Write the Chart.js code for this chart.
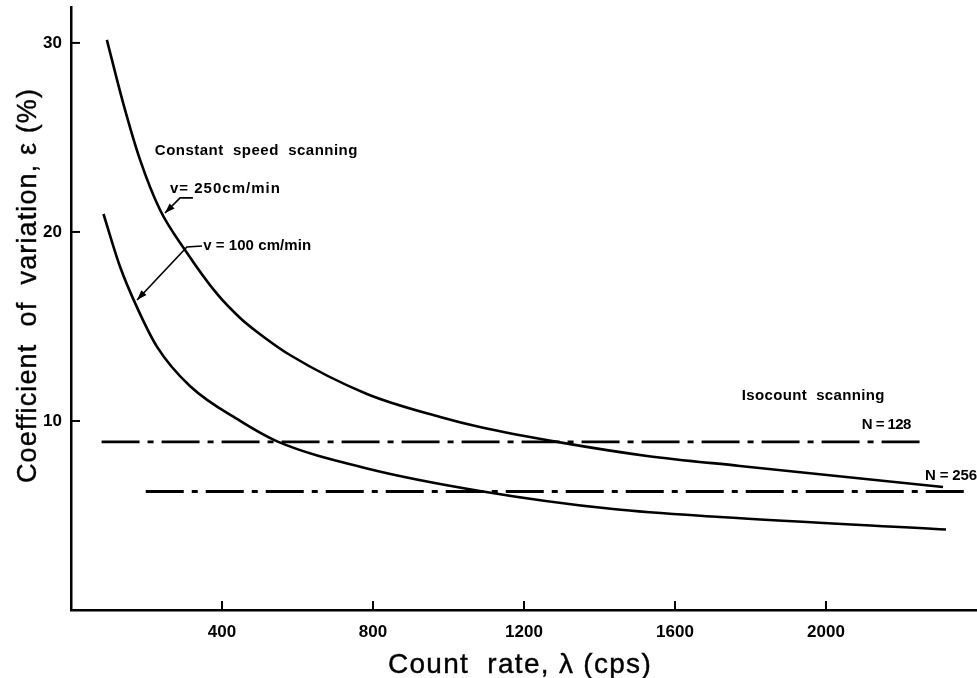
<!DOCTYPE html>
<html><head><meta charset="utf-8">
<script src="https://cdn.jsdelivr.net/npm/chart.js@4.4.1/dist/chart.umd.min.js"></script>
<style>html,body{margin:0;padding:0;background:#fff;}canvas{display:block;}</style>
</head><body>
<canvas id="c" width="977" height="678"></canvas>
<script>
// ---- data ----
const xTicks = [400, 800, 1200, 1600, 2000];
const yTicks = [10, 20, 30];

// Constant speed scanning, v = 250 cm/min
const rateV250 = [95, 138, 183, 236, 302, 387, 448, 493, 580, 784, 978, 1083, 1303, 1526, 1772, 2310];
const cvV250   = [30.16, 26.83, 23.81, 21.16, 19.05, 16.72, 15.45, 14.71, 13.49, 11.43, 10.21, 9.68, 8.84, 8.15, 7.62, 6.51];

// Constant speed scanning, v = 100 cm/min
const rateV100 = [86, 130, 174, 228, 315, 448, 546, 784, 1083, 1436, 1719, 2318];
const cvV100   = [20.95, 18.16, 16.05, 13.92, 11.85, 10.0, 8.92, 7.49, 6.30, 5.34, 4.92, 4.26];

// Isocount scanning
const rateN128 = [81, 2253];
const cvN128   = [8.89, 8.89];
const rateN256 = [198, 2383];
const cvN256   = [6.27, 6.27];

const xTitle = 'Count  rate, \u03bb (cps)';
const yTitle = 'Coefficient  of  variation, \u03b5 (%)';

// ---- build chart ----
const pts = (xs, ys) => xs.map((x, i) => ({x: x, y: ys[i]}));
const FONT = '"Liberation Sans", Arial, sans-serif';

const overlay = {
  id: 'overlay',
  afterDraw(chart, args, opts) {
    const ctx = chart.ctx, sx = chart.scales.x, sy = chart.scales.y;
    const P = (x, y) => [sx.getPixelForValue(x), sy.getPixelForValue(y)];
    const fitText = (t, font, target) => {
      ctx.font = font; ctx.letterSpacing = '0px';
      const w = ctx.measureText(t).width;
      const ls = (target - w) / t.length;
      ctx.letterSpacing = ls.toFixed(2) + 'px';
    };
    ctx.save();
    ctx.strokeStyle = '#000'; ctx.fillStyle = '#000';
    // inward tick marks
    ctx.lineWidth = 2;
    xTicks.forEach(v => { const p = sx.getPixelForValue(v); ctx.beginPath(); ctx.moveTo(p, sx.top); ctx.lineTo(p, sx.top - 9); ctx.stroke(); });
    yTicks.forEach(v => { const p = sy.getPixelForValue(v); ctx.beginPath(); ctx.moveTo(sy.right, p); ctx.lineTo(sy.right + 9, p); ctx.stroke(); });

    // axis titles
    ctx.lineWidth = 0.4;
    ctx.textAlign = 'center'; ctx.textBaseline = 'alphabetic';
    fitText(xTitle, '28px ' + FONT, 264);
    ctx.fillText(xTitle, 520, 673);
    ctx.strokeText(xTitle, 520, 673);
    ctx.save();
    fitText(yTitle, '27px ' + FONT, 395);
    ctx.translate(36, 285.5); ctx.rotate(-Math.PI / 2);
    ctx.fillText(yTitle, 0, 0);
    ctx.strokeText(yTitle, 0, 0);
    ctx.restore();
    ctx.letterSpacing = '0px';

    // text annotations
    ctx.textAlign = 'left'; ctx.textBaseline = 'middle';
    opts.labels.forEach(l => {
      fitText(l.text, 'bold 15px ' + FONT, l.w);
      const [x, y] = P(l.x, l.y);
      ctx.fillText(l.text, x, y);
    });
    ctx.letterSpacing = '0px';

    // leader lines with arrowheads
    ctx.lineWidth = 1.6;
    opts.leaders.forEach(path => {
      const p = path.map(q => P(q[0], q[1]));
      ctx.beginPath(); ctx.moveTo(p[0][0], p[0][1]);
      for (let i = 1; i < p.length; i++) ctx.lineTo(p[i][0], p[i][1]);
      ctx.stroke();
      const a = p[p.length - 2], b = p[p.length - 1];
      const ang = Math.atan2(b[1] - a[1], b[0] - a[0]);
      const L = 10, W = 3.5;
      ctx.beginPath();
      ctx.moveTo(b[0], b[1]);
      ctx.lineTo(b[0] - L * Math.cos(ang) + W * Math.sin(ang), b[1] - L * Math.sin(ang) - W * Math.cos(ang));
      ctx.lineTo(b[0] - L * Math.cos(ang) - W * Math.sin(ang), b[1] - L * Math.sin(ang) + W * Math.cos(ang));
      ctx.closePath(); ctx.fill();
    });
    ctx.restore();
  }
};

const solid = {borderColor: '#000', borderWidth: 2.6, pointRadius: 0, fill: false, showLine: true, cubicInterpolationMode: 'monotone'};
const dashdot = {borderColor: '#000', borderWidth: 2.8, pointRadius: 0, fill: false, showLine: true, borderDash: [38, 8, 6, 8]};

new Chart(document.getElementById('c'), {
  type: 'scatter',
  data: {
    datasets: [
      Object.assign({label: 'v = 250 cm/min', data: pts(rateV250, cvV250)}, solid),
      Object.assign({label: 'v = 100 cm/min', data: pts(rateV100, cvV100)}, solid),
      Object.assign({label: 'N = 128', data: pts(rateN128, cvN128)}, dashdot),
      Object.assign({label: 'N = 256', data: pts(rateN256, cvN256)}, dashdot)
    ]
  },
  options: {
    responsive: false,
    animation: false,
    devicePixelRatio: 1,
    layout: {padding: {top: 7, right: 0, left: 0, bottom: 0}},
    plugins: {
      legend: {display: false},
      tooltip: {enabled: false},
      overlay: {
        labels: [
          {text: 'Constant  speed  scanning', x: 222, y: 24.3, w: 203},
          {text: 'v= 250cm/min', x: 262, y: 22.3, w: 111},
          {text: 'v = 100 cm/min', x: 350, y: 19.26, w: 108},
          {text: 'Isocount  scanning', x: 1777, y: 11.32, w: 143},
          {text: 'N = 128', x: 2095, y: 9.79, w: 49},
          {text: 'N = 256', x: 2262, y: 7.09, w: 52}
        ],
        leaders: [
          [[323, 21.8], [289, 21.8], [249, 21.0]],
          [[347, 19.26], [307, 19.2], [175, 16.4]]
        ]
      }
    },
    scales: {
      x: {
        type: 'linear', min: 0, max: 2400, position: 'bottom',
        grid: {display: false, drawTicks: false},
        border: {display: true, color: '#000', width: 2.5},
        afterBuildTicks: s => { s.ticks = xTicks.map(v => ({value: v})); },
        afterFit: s => { s.height = 68; s.paddingLeft = 0; s.paddingRight = 0; },
        ticks: {color: '#000', font: {family: FONT, size: 17, weight: 'bold'}, padding: 12, maxRotation: 0,
                callback: v => String(v)}
      },
      y: {
        type: 'linear', min: 0, max: 31.9, position: 'left',
        grid: {display: false, drawTicks: false},
        border: {display: true, color: '#000', width: 2.5},
        afterBuildTicks: s => { s.ticks = yTicks.map(v => ({value: v})); },
        afterFit: s => { s.width = 71; s.paddingTop = 0; s.paddingBottom = 0; },
        ticks: {color: '#000', font: {family: FONT, size: 17, weight: 'bold'}, padding: 9,
                callback: v => String(v)}
      }
    }
  },
  plugins: [overlay]
});
</script>
</body></html>
